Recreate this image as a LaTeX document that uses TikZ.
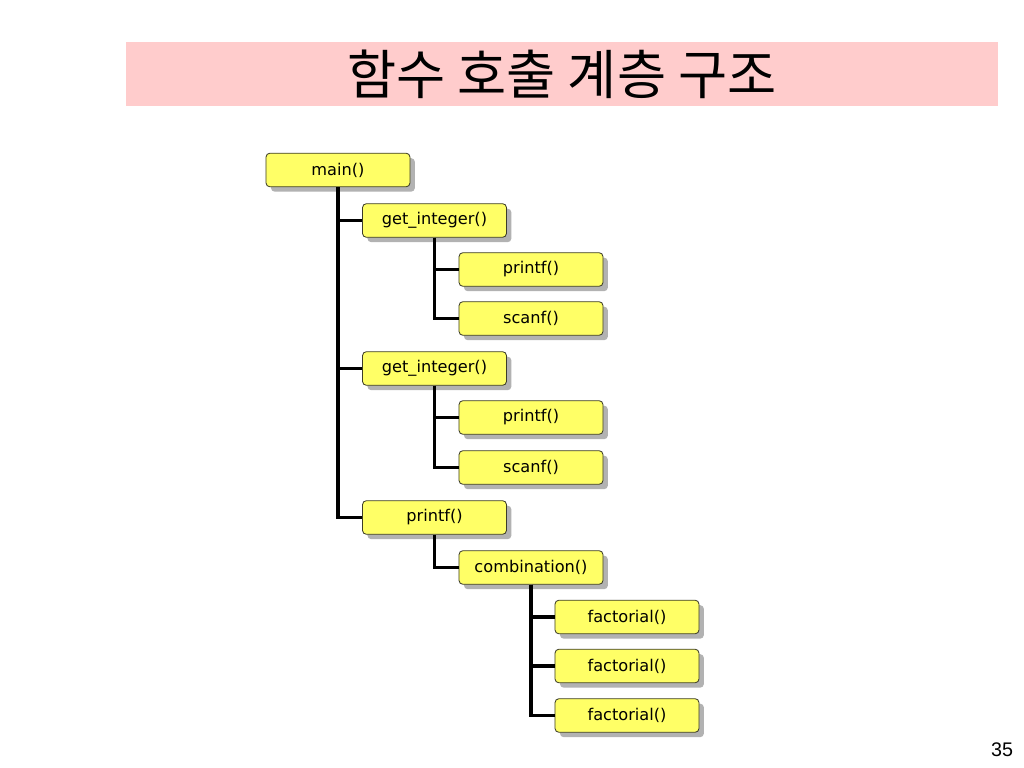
\documentclass[tikz,border=0pt]{standalone}
\usepackage{fontspec}
\newfontfamily\krfont{Noto Sans CJK KR}
\newfontfamily\boxfont{DejaVu Sans}
\newfontfamily\pagefont{Liberation Sans}
\usepackage{tikz}
\usetikzlibrary{shadows}
\definecolor{boxyellow}{RGB}{255,255,102}
\definecolor{titlepink}{RGB}{255,204,204}
\definecolor{boxedge}{RGB}{60,60,40}
\tikzset{fn/.style={rectangle,draw=boxedge,line width=0.6pt,fill=boxyellow,rounded corners=2.8pt,
  minimum width=3.6cm,minimum height=0.84cm,inner sep=0pt,font=\boxfont\fontsize{11.5}{13}\selectfont,
  drop shadow={shadow xshift=3.5pt,shadow yshift=-3.5pt,fill=black!30,opacity=1}},
  call/.style={line width=2.2pt}}
\begin{document}
\begin{tikzpicture}[x=0.025cm,y=-0.025cm]
 \useasboundingbox[fill=white] (0,0) rectangle (1024,768);

 \node at (562,74) [rectangle,fill=titlepink,minimum width=21.8cm,minimum height=1.6cm,
   font=\krfont\fontsize{38}{44}\selectfont] (t) {함수 호출 계층 구조};

 \node at (338,170) [fn] (1) {main()};
 \node at (434.5,220.5) [fn] (2) {get\_integer()};
 \node at (531,269.5) [fn] (3) {printf()};
 \node at (531,318.5) [fn] (4) {scanf()};
 \node at (434.5,368.5) [fn] (5) {get\_integer()};
 \node at (531,417.5) [fn] (6) {printf()};
 \node at (531,467.5) [fn] (7) {scanf()};
 \node at (434.5,517.5) [fn] (8) {printf()};
 \node at (531,567.5) [fn] (9) {combination()};
 \node at (627,617) [fn] (10) {factorial()};
 \node at (627,666) [fn] (11) {factorial()};
 \node at (627,715.5) [fn] (12) {factorial()};

 \draw[call] (1)|-(2); \draw[call] (1)|-(5); \draw[call] (1)|-(8);
 \draw[call] (2)|-(3); \draw[call] (2)|-(4);
 \draw[call] (5)|-(6); \draw[call] (5)|-(7);
 \draw[call] (8)|-(9);
 \draw[call] (9)|-(10); \draw[call] (9)|-(11); \draw[call] (9)|-(12);

 \node at (1002,750) [font=\pagefont\fontsize{14}{16}\selectfont] (n) {35};
\end{tikzpicture}
\end{document}
